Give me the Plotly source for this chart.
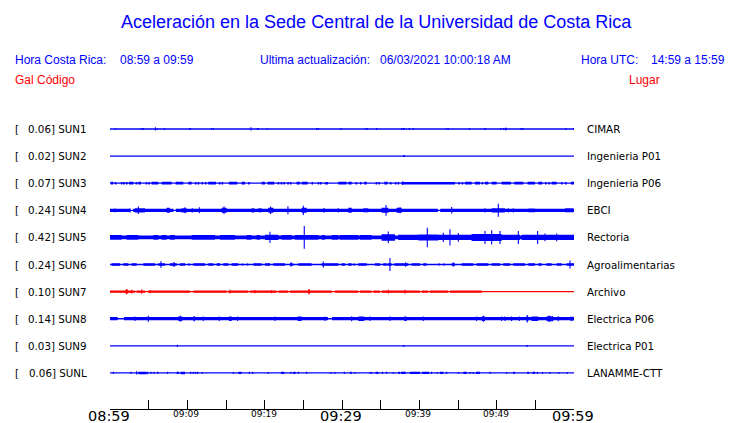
import plotly.graph_objects as go

# ---------------- data ----------------
codes = ["SUN1", "SUN2", "SUN3", "SUN4", "SUN5", "SUN6", "SUN7", "SUN8", "SUN9", "SUNL"]
places = ["CIMAR", "Ingenieria P01", "Ingenieria P06", "EBCI", "Rectoria",
          "Agroalimentarias", "Archivo", "Electrica P06", "Electrica P01", "LANAMME-CTT"]
peaks_gal = [0.06, 0.02, 0.07, 0.24, 0.42, 0.24, 0.10, 0.14, 0.03, 0.06]
trace_colors = ["#0000ff"] * 6 + ["#ff0000"] + ["#0000ff"] * 3

# minutes after 08:59 ; (start_min, end_min, half-amplitude in Gal)
sun1 = [(0.7, 0.7, 0.03), (4.1, 4.1, 0.04), (4.35, 4.35, 0.04), (5.86, 5.86, 0.06), (6.12, 6.12, 0.03),
        (7.03, 7.03, 0.04), (10.25, 10.45, 0.04), (13.15, 13.15, 0.04), (13.36, 13.36, 0.03),
        (18.23, 18.23, 0.06), (19.0, 19.2, 0.04), (20.34, 20.34, 0.03), (26.72, 26.72, 0.04),
        (26.94, 26.94, 0.04), (29.83, 29.83, 0.04), (33.1, 33.1, 0.04), (33.28, 33.28, 0.03),
        (34.48, 34.48, 0.04), (37.72, 37.72, 0.04), (37.92, 38.12, 0.04), (38.7, 38.7, 0.04),
        (39.22, 39.22, 0.04), (43.54, 43.54, 0.04), (43.76, 43.76, 0.03), (46.47, 46.47, 0.04),
        (48.4, 48.6, 0.04), (50.52, 50.52, 0.04), (50.87, 50.87, 0.03), (51.05, 51.3, 0.045),
        (53.15, 53.15, 0.04), (53.37, 53.37, 0.04), (58.93, 58.93, 0.04), (59.95, 59.95, 0.04)]
sun2 = [(37.9, 38.15, 0.035)]
sun3 = [(0.08, 0.43, 0.05), (0.64, 0.84, 0.045), (1.42, 1.62, 0.045), (1.72, 1.92, 0.045), (2.07, 2.27, 0.045),
        (2.45, 3.01, 0.05), (3.32, 3.52, 0.045), (3.66, 4.01, 0.05), (4.61, 4.81, 0.045), (4.95, 5.15, 0.045),
        (5.38, 6.25, 0.05), (6.68, 7.97, 0.05), (8.49, 9.48, 0.05), (10.13, 10.56, 0.05),
        (10.99, 11.19, 0.045), (11.33, 11.55, 0.045), (11.85, 12.05, 0.045), (12.28, 12.48, 0.045),
        (12.71, 13.7, 0.05), (14.09, 14.29, 0.045), (14.44, 14.64, 0.045), (15.38, 16.46, 0.05),
        (17.02, 17.45, 0.05), (17.88, 18.08, 0.045), (19.61, 20.04, 0.05), (20.38, 21.25, 0.05),
        (21.68, 21.88, 0.045), (22.07, 22.27, 0.045), (22.41, 22.61, 0.045), (22.93, 23.13, 0.045),
        (23.27, 23.47, 0.045), (24.13, 24.56, 0.05), (24.78, 25.56, 0.05), (26.07, 26.27, 0.045),
        (26.85, 27.05, 0.045), (27.15, 27.35, 0.045), (27.8, 28.0, 0.045), (28.01, 28.21, 0.045),
        (29.52, 30.6, 0.05), (30.82, 31.25, 0.05), (31.76, 31.96, 0.045), (32.32, 32.52, 0.045),
        (32.88, 33.19, 0.05), (34.35, 34.55, 0.045), (34.7, 34.9, 0.045), (35.47, 35.9, 0.05),
        (36.2, 36.4, 0.045), (36.85, 37.05, 0.045), (37.2, 37.4, 0.045), (37.84, 37.84, 0.07),
        (37.71, 44.61, 0.045), (45.04, 45.24, 0.045), (45.47, 45.67, 0.045), (45.9, 46.77, 0.05),
        (47.2, 47.84, 0.05), (48.06, 48.26, 0.045), (48.49, 48.92, 0.05), (49.35, 50.0, 0.05),
        (50.64, 51.85, 0.05), (52.28, 53.45, 0.05), (54.0, 54.95, 0.05), (55.38, 55.9, 0.05),
        (56.25, 56.45, 0.045), (56.68, 56.88, 0.045), (57.11, 57.76, 0.05), (58.32, 58.52, 0.045),
        (58.83, 59.03, 0.045), (59.61, 60.0, 0.05)]
sun4 = [(0.0, 2.6, 0.06), (3.0, 8.2, 0.06), (8.5, 42.4, 0.06), (42.7, 60.0, 0.06),
        (0.64, 0.64, 0.07), (2.58, 2.58, 0.08), (3.23, 4.52, 0.08), (3.66, 3.66, 0.14),
        (7.32, 7.75, 0.09), (9.26, 9.91, 0.08), (9.7, 9.7, 0.11), (10.64, 10.64, 0.08),
        (11.55, 11.55, 0.11), (14.44, 15.08, 0.09), (14.74, 14.74, 0.14), (18.3, 18.65, 0.08),
        (19.17, 19.61, 0.075), (20.47, 21.12, 0.09), (20.77, 20.77, 0.14), (23.01, 23.01, 0.15),
        (24.78, 25.43, 0.09), (25.0, 25.0, 0.17), (27.58, 27.8, 0.08), (29.52, 29.52, 0.08),
        (30.82, 31.25, 0.09), (32.75, 33.4, 0.075), (35.12, 35.99, 0.09), (35.69, 35.69, 0.2),
        (37.07, 37.71, 0.09), (37.5, 37.5, 0.11), (44.18, 44.18, 0.12), (48.49, 48.49, 0.08),
        (49.35, 51.07, 0.08), (50.21, 50.21, 0.24), (51.5, 51.5, 0.08), (52.15, 52.15, 0.08),
        (54.09, 54.95, 0.07), (58.83, 59.91, 0.075)]
sun5 = [(0.0, 60.0, 0.07),
        (0.0, 1.5, 0.09), (2.15, 3.66, 0.09), (5.6, 6.25, 0.09), (6.68, 7.32, 0.09), (7.75, 8.4, 0.09),
        (10.56, 13.57, 0.085), (14.22, 16.16, 0.09), (17.67, 18.3, 0.09), (18.96, 19.39, 0.09),
        (20.04, 21.77, 0.1), (20.69, 20.69, 0.21), (22.2, 23.49, 0.09), (23.92, 26.94, 0.09),
        (25.12, 25.12, 0.42), (27.37, 27.8, 0.09), (28.66, 29.52, 0.09), (29.74, 32.11, 0.09),
        (32.32, 33.83, 0.09), (35.12, 36.85, 0.12), (35.99, 35.99, 0.22), (37.28, 39.87, 0.1),
        (39.87, 42.45, 0.11), (41.03, 41.03, 0.36), (42.45, 46.76, 0.1), (43.1, 43.1, 0.17),
        (43.96, 43.96, 0.3), (45.04, 45.04, 0.16), (46.76, 50.64, 0.13), (48.49, 48.49, 0.24),
        (49.35, 49.35, 0.26), (50.43, 50.43, 0.24), (50.64, 53.01, 0.1), (52.8, 52.8, 0.24),
        (53.23, 60.0, 0.095), (55.3, 55.3, 0.24), (56.25, 56.25, 0.14), (57.76, 57.76, 0.14)]
sun6 = [(0.21, 1.29, 0.045), (1.72, 2.37, 0.045), (2.8, 3.44, 0.045), (4.31, 5.82, 0.045), (6.25, 7.11, 0.045),
        (7.75, 8.62, 0.045), (9.05, 9.7, 0.045), (10.13, 10.33, 0.04), (10.78, 12.28, 0.045),
        (12.71, 13.36, 0.045), (13.79, 14.22, 0.045), (14.65, 15.3, 0.045), (15.73, 16.59, 0.045),
        (17.02, 17.22, 0.04), (17.67, 17.88, 0.04), (18.53, 19.61, 0.045), (20.04, 20.69, 0.045),
        (21.12, 22.63, 0.045), (23.27, 23.7, 0.045), (24.35, 26.07, 0.045), (27.37, 29.52, 0.045),
        (29.95, 30.38, 0.045), (30.82, 31.25, 0.045), (31.46, 31.66, 0.04), (32.11, 33.19, 0.045),
        (34.26, 34.91, 0.045), (35.34, 35.77, 0.045), (35.9, 36.42, 0.045), (36.77, 38.57, 0.045),
        (39.0, 40.08, 0.045), (40.51, 40.94, 0.045), (42.45, 42.65, 0.04), (43.1, 43.31, 0.04),
        (44.18, 44.61, 0.045), (45.47, 46.98, 0.045), (47.41, 48.92, 0.045), (49.35, 50.43, 0.045),
        (50.86, 51.72, 0.045), (52.15, 53.66, 0.045), (54.09, 54.95, 0.045), (55.38, 55.81, 0.045),
        (56.46, 57.11, 0.045), (57.76, 58.4, 0.045), (59.05, 60.0, 0.045),
        (6.59, 6.59, 0.12), (8.27, 8.27, 0.09), (23.4, 23.4, 0.08), (27.58, 27.58, 0.11),
        (36.2, 36.2, 0.24), (38.23, 38.23, 0.08), (44.4, 44.4, 0.08), (59.48, 59.48, 0.15)]
sun7 = [(0.0, 3.23, 0.045), (3.44, 4.52, 0.045), (4.95, 10.34, 0.045), (10.78, 15.08, 0.045),
        (15.3, 17.88, 0.045), (18.1, 21.55, 0.045), (21.77, 23.06, 0.045), (23.27, 28.66, 0.045),
        (29.09, 32.11, 0.045), (32.32, 33.83, 0.045), (34.05, 34.91, 0.045), (35.12, 40.08, 0.045),
        (40.3, 41.16, 0.045), (41.38, 43.75, 0.045), (43.96, 48.06, 0.045),
        (2.15, 2.15, 0.1), (2.0, 2.35, 0.065), (2.8, 2.8, 0.07), (4.09, 4.09, 0.075), (5.17, 5.17, 0.06),
        (15.51, 15.51, 0.07), (18.75, 18.75, 0.06), (20.9, 20.9, 0.06), (25.73, 25.73, 0.1),
        (25.6, 25.85, 0.065), (35.99, 35.99, 0.07), (38.14, 38.14, 0.07)]
sun8 = [(0.0, 1.0, 0.06), (1.8, 28.2, 0.06), (28.7, 60.0, 0.06),
        (3.23, 3.23, 0.08), (4.95, 4.95, 0.11), (8.83, 9.35, 0.08), (9.1, 9.1, 0.11), (10.78, 10.99, 0.09),
        (12.06, 12.06, 0.08), (14.13, 14.13, 0.08), (15.38, 15.73, 0.08), (16.5, 16.5, 0.08),
        (21.34, 21.34, 0.08), (24.26, 24.78, 0.08), (27.8, 27.8, 0.08), (31.25, 31.25, 0.09),
        (32.11, 32.88, 0.08), (33.62, 33.62, 0.08), (36.2, 36.2, 0.08), (38.05, 38.36, 0.08),
        (40.51, 40.51, 0.08), (47.41, 47.41, 0.08), (48.06, 48.49, 0.085), (48.3, 48.3, 0.11),
        (50.64, 50.64, 0.08), (51.07, 51.07, 0.08), (51.93, 51.93, 0.08), (52.93, 52.93, 0.08),
        (53.88, 54.09, 0.09), (53.95, 53.95, 0.14), (54.52, 55.38, 0.08), (56.46, 57.32, 0.09),
        (56.8, 56.8, 0.12), (57.97, 57.97, 0.09), (59.48, 59.91, 0.075)]
sun9 = [(8.7, 8.7, 0.04), (37.87, 38.07, 0.035), (53.82, 54.02, 0.035)]
sunl = [(0.43, 0.43, 0.04), (2.71, 2.71, 0.04), (3.44, 3.44, 0.06), (3.66, 4.74, 0.045), (4.87, 4.87, 0.045),
        (5.3, 5.3, 0.04), (5.69, 5.69, 0.04), (6.16, 6.16, 0.04), (7.45, 7.45, 0.04),
        (8.62, 8.92, 0.04), (9.13, 9.7, 0.045), (10.43, 10.43, 0.04), (10.78, 10.78, 0.04),
        (11.08, 11.08, 0.04), (11.33, 11.33, 0.04), (11.94, 11.94, 0.035), (15.95, 15.95, 0.035),
        (16.59, 17.02, 0.04), (18.01, 18.01, 0.04), (18.44, 18.44, 0.04), (20.47, 20.47, 0.035),
        (22.11, 22.54, 0.04), (23.4, 23.4, 0.04), (23.7, 24.0, 0.04), (24.35, 24.35, 0.04),
        (25.43, 25.43, 0.04), (28.58, 28.58, 0.035), (29.09, 29.09, 0.035), (30.3, 30.3, 0.04),
        (31.03, 31.25, 0.04), (31.68, 31.68, 0.035), (33.62, 33.62, 0.035), (33.83, 33.83, 0.035),
        (34.35, 34.7, 0.04), (35.25, 35.25, 0.04), (35.77, 35.77, 0.04), (36.63, 36.63, 0.035),
        (37.28, 37.5, 0.04), (37.63, 38.23, 0.04), (38.79, 40.08, 0.04), (40.38, 41.25, 0.04),
        (41.59, 41.59, 0.04), (42.32, 42.32, 0.035), (42.67, 43.1, 0.04), (43.53, 43.53, 0.04),
        (45.04, 45.04, 0.035), (45.69, 46.12, 0.04), (46.55, 46.55, 0.035), (46.98, 46.98, 0.035),
        (47.32, 47.84, 0.04), (49.14, 49.14, 0.04), (51.29, 51.29, 0.035), (52.15, 52.37, 0.04),
        (53.95, 54.17, 0.04), (54.65, 54.95, 0.04), (55.25, 55.25, 0.04), (55.94, 55.94, 0.035),
        (56.89, 56.89, 0.035), (58.05, 58.05, 0.035), (59.13, 59.13, 0.035)]
station_events = [sun1, sun2, sun3, sun4, sun5, sun6, sun7, sun8, sun9, sunl]

window_minutes = 60
tick_minutes = list(range(0, 61, 5))
label_minutes = [0, 10, 20, 30, 40, 50, 60]
label_texts = ["08:59", "09:09", "09:19", "09:29", "09:39", "09:49", "09:59"]
label_major = [True, False, False, True, False, False, True]

header_cr = ("Hora Costa Rica:", "08:59 a 09:59")
header_upd = ("Ultima actualización:", "06/03/2021 10:00:18 AM")
header_utc = ("Hora UTC:", "14:59 a 15:59")
title = "Aceleración en la Sede Central de la Universidad de Costa Rica"

# ---------------- figure ----------------
GAL_TO_ROW = 1.0   # vertical scale: rows per Gal
BLUE = "#0000ff"
RED = "#ff0000"
W, H = 740, 423
ML, MR, MT, MB = 110, 166, 110, 14

fig = go.Figure()
for i, ev in enumerate(station_events):
    c = -i
    col = trace_colors[i]
    fig.add_trace(go.Scatter(x=[0, window_minutes], y=[c, c], mode="lines",
                             line=dict(color=col, width=1.3), hoverinfo="skip", showlegend=False))
    bx, by, sx, sy = [], [], [], []
    for t0, t1, a in ev:
        h = a * GAL_TO_ROW
        if t1 > t0:
            bx += [t0, t1, t1, t0, t0, None]
            by += [c - h, c - h, c + h, c + h, c - h, None]
        else:
            sx += [t0, t0, None]
            sy += [c - h, c + h, None]
    if bx:
        fig.add_trace(go.Scatter(x=bx, y=by, mode="lines", fill="toself", fillcolor=col,
                                 line=dict(color=col, width=0), hoverinfo="skip", showlegend=False))
    if sx:
        fig.add_trace(go.Scatter(x=sx, y=sy, mode="lines",
                                 line=dict(color=col, width=1.1), hoverinfo="skip", showlegend=False))


def px_x(px):
    return (px - ML) / (W - ML - MR)


def px_y(py):
    return 1 + (MT - py) / (H - MT - MB)


ann = []
lab_font = dict(family="DejaVu Sans", size=10.3, color="black")
for i in range(len(codes)):
    c = -i
    ann.append(dict(x=px_x(15), xref="paper", y=c, yref="y", text="[", showarrow=False,
                    xanchor="left", yanchor="middle", xshift=-2, font=lab_font))
    ann.append(dict(x=px_x(88), xref="paper", y=c, yref="y", text=f"{peaks_gal[i]:.2f}] {codes[i]}",
                    showarrow=False, xanchor="right", yanchor="middle", xshift=1, font=lab_font))
    ann.append(dict(x=px_x(587), xref="paper", y=c, yref="y", text=places[i], showarrow=False,
                    xanchor="left", yanchor="middle", xshift=-2, font=lab_font))

for m, t, big in zip(label_minutes, label_texts, label_major):
    ann.append(dict(x=m, xref="x", y=px_y(415.5 if big else 414), yref="paper", text=t, showarrow=False,
                    xanchor="center", yanchor="middle", xshift=-1,
                    font=dict(family="DejaVu Sans", size=14.5 if big else 9, color="black")))


def px_ann(px, py, text, color, size, anchor="left", family="Liberation Sans"):
    return dict(x=px_x(px), xref="paper", y=px_y(py), yref="paper",
                text=text, showarrow=False, xanchor=anchor, yanchor="middle",
                xshift=-2 if anchor == "left" else 0,
                font=dict(family=family, size=size, color=color))


ann.append(px_ann(376, 22, title, BLUE, 18, "center"))
ann.append(px_ann(15, 60, header_cr[0], BLUE, 12))
ann.append(px_ann(120, 60, header_cr[1], BLUE, 12))
ann.append(px_ann(260, 60, header_upd[0], BLUE, 12))
ann.append(px_ann(380, 60, header_upd[1], BLUE, 12))
ann.append(px_ann(581, 60, header_utc[0], BLUE, 12))
ann.append(px_ann(651, 60, header_utc[1], BLUE, 12))
ann.append(px_ann(15, 80, "Gal", RED, 12))
ann.append(px_ann(37, 80, "Código", RED, 12))
ann.append(px_ann(629, 80, "Lugar", RED, 12))

fig.update_layout(
    width=W, height=H,
    margin=dict(l=ML, r=MR, t=MT, b=MB, pad=0),
    paper_bgcolor="white", plot_bgcolor="white",
    showlegend=False,
    annotations=ann,
    xaxis=dict(range=[0, window_minutes], showgrid=False, zeroline=False, showline=True,
               linecolor="black", linewidth=1, ticks="inside", ticklen=9, tickcolor="black",
               tickwidth=1, tickvals=tick_minutes, showticklabels=False, fixedrange=True),
    yaxis=dict(range=[-10.33, 0.70], visible=False, fixedrange=True),
)

fig.write_html("out.html", config={"displayModeBar": False},
               post_script="document.body.style.margin='0';document.body.style.overflow='hidden';")
